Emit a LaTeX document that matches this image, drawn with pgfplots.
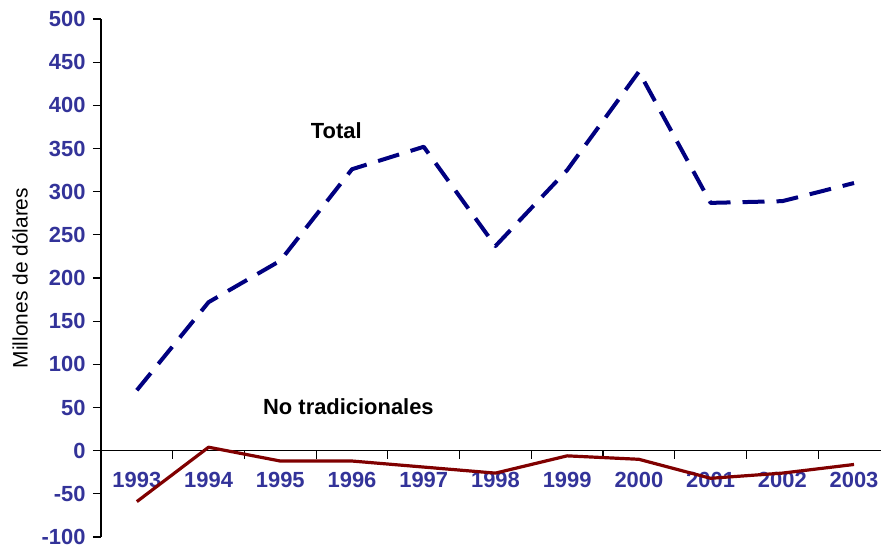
\documentclass[border=0pt]{standalone}
\usepackage{fontspec}
\setmainfont{Liberation Sans}
\usepackage{pgfplots}
\pgfplotsset{compat=1.18}
\definecolor{ticklab}{RGB}{51,51,153}
\definecolor{totalc}{RGB}{0,0,128}
\definecolor{ntc}{RGB}{128,0,0}
\begin{document}
\begin{tikzpicture}
\path[use as bounding box] (0,0) rectangle (881bp,548bp);
\begin{axis}[
  at={(101bp,11bp)}, anchor=south west,
  width=780bp, height=518bp, scale only axis,
  xmin=-0.5, xmax=10.376, ymin=-100, ymax=500,
  axis x line*=middle, axis y line*=left,
  axis line style={black, line width=1.2bp},
  xtick={0,1,2,3,4,5,6,7,8,9,10},
  xticklabels={1993,1994,1995,1996,1997,1998,1999,2000,2001,2002,2003},
  minor xtick={0.5,1.5,2.5,3.5,4.5,5.5,6.5,7.5,8.5,9.5},
  major x tick style={draw=none},
  minor x tick style={black, line width=1.2bp, yshift=-4bp},
  ytick={-100,-50,0,50,100,150,200,250,300,350,400,450,500},
  major y tick style={black, line width=1.2bp, xshift=-4bp},
  tick align=center,
  major tick length=8bp, minor tick length=8bp,
  /pgf/number format/assume math mode=true,
  ticklabel style={font=\fontsize{22}{24}\selectfont\bfseries, text=ticklab},
  xticklabel style={anchor=north, yshift=-14bp},
  yticklabel style={anchor=east, xshift=-8bp},
  every axis y label/.style={at={(axis description cs:-0.1038,0.5)}, rotate=90, anchor=center},
  ylabel={\fontsize{21}{24}\selectfont Millones de dólares},
  clip=true,
]
\addplot[totalc, line width=4bp, dash pattern=on 22bp off 12bp, line join=round] coordinates {
 (0,70) (1,172) (2,220) (3,326) (4,352) (5,237) (6,325) (7,439) (8,287) (9,289) (10,310)
};
\addplot[ntc, line width=3.2bp, line join=round] coordinates {
 (0,-59) (1,4) (2,-12) (3,-12) (4,-19) (5,-26) (6,-6) (7,-10) (8,-32) (9,-26) (10,-16)
};
\node[font=\fontsize{22}{24}\selectfont\bfseries, inner sep=0pt] at (axis cs:2.78,371) {Total};
\node[font=\fontsize{22}{24}\selectfont\bfseries, inner sep=0pt] at (axis cs:2.95,50.4) {No tradicionales};
\end{axis}
\end{tikzpicture}
\end{document}
